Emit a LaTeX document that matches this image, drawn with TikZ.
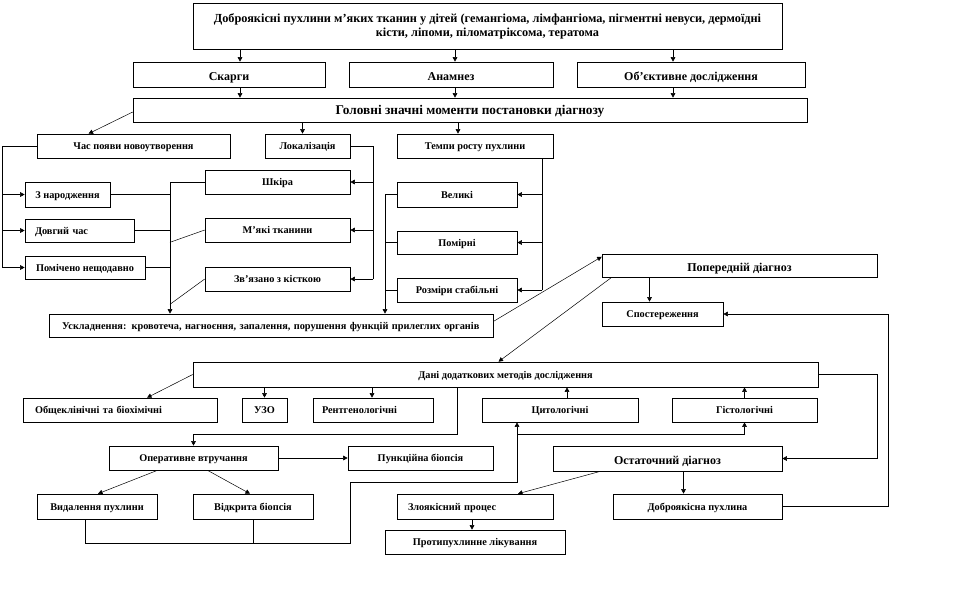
\documentclass[tikz,border=0pt]{standalone}
\usepackage{fontspec}
\setmainfont{Liberation Serif}
\usetikzlibrary{arrows.meta,shadows}
\begin{document}
\begin{tikzpicture}[x=1pt,y=-1pt,
  box/.style={draw=black, line width=0.6pt, fill=white, inner sep=0pt,
    font=\fontsize{10.3}{12}\selectfont\bfseries, text height=7.8pt, text depth=0pt,
    drop shadow={shadow xshift=0.9pt, shadow yshift=-1.2pt, fill=black!55, opacity=1}},
  ttl/.style={font=\fontsize{12.3}{14}\selectfont\bfseries, text height=, text depth=},
  big/.style={font=\fontsize{13.3}{15}\selectfont\bfseries, text height=8.8pt},
  mid/.style={font=\fontsize{12}{14}\selectfont\bfseries, text height=11.5pt},
  ln/.style={line width=0.5pt},
  arr/.style={ln, -{Triangle[width=4.5pt,length=4.5pt]}}]
\fill[white] (0,0) rectangle (961,603);
\useasboundingbox (0,0) rectangle (961,603);

% boxes
\node[box, ttl, minimum width=589pt, minimum height=46pt, align=center] (title) at (487.5,26)
  {Доброякісні пухлини м’яких тканин у дітей (гемангіома, лімфангіома, пігментні невуси, дермоїдні\\кісти, ліпоми, піломатріксома, тератома};
\node[box, mid, minimum width=192pt, minimum height=25pt] (skarhy) at (229,74.5) {Скарги};
\node[box, mid, minimum width=204pt, minimum height=25pt] (anamnez) at (451,74.5) {Анамнез};
\node[box, mid, minimum width=228pt, minimum height=25pt] (obj) at (691,74.5) {Об’єктивне дослідження};
\node[box, big, minimum width=674pt, minimum height=24pt] (holovni) at (470,110) {Головні значні моменти постановки діагнозу};

\node[box, minimum width=193pt, minimum height=24pt] (chas) at (133.5,146) {Час появи новоутворення};
\node[box, minimum width=85pt, minimum height=24pt] (lok) at (307.5,146) {Локалізація};
\node[box, minimum width=156pt, minimum height=24pt] (tempy) at (475,146) {Темпи росту пухлини};

\node[box, minimum width=85pt, minimum height=25pt] (znar) at (67.5,194.5) {З народження};
\node[box, minimum height=23pt, inner xsep=10pt, text width=89pt, align=left] (dovh) at (79.5,230.5) {Довгий час};
\node[box, minimum width=120pt, minimum height=23pt] (pomich) at (85,267.5) {Помічено нещодавно};

\node[box, minimum width=145pt, minimum height=24pt] (shkira) at (277.5,182) {Шкіра};
\node[box, minimum width=145pt, minimum height=24pt] (miaki) at (277.5,230) {М’які тканини};
\node[box, minimum width=145pt, minimum height=24pt] (zviaz) at (277.5,279) {Зв’язано з кісткою};

\node[box, minimum width=120pt, minimum height=25pt] (velyki) at (457,194.5) {Великі};
\node[box, minimum width=120pt, minimum height=23pt] (pomirni) at (457,242.5) {Помірні};
\node[box, minimum width=120pt, minimum height=24pt] (rozm) at (457,290) {Розміри стабільні};

\node[box, minimum height=23pt, inner xsep=13pt, text width=418pt, align=left] (uskl) at (271,325.5)
  {Ускладнення: кровотеча, нагноєння, запалення, порушення функцій прилеглих органів};

\node[box, mid, minimum width=275pt, minimum height=23pt] (poper) at (739.5,265.5) {Попередній діагноз};
\node[box, minimum width=121pt, minimum height=24pt] (sposter) at (662.5,314) {Спостереження};

\node[box, minimum width=625pt, minimum height=25pt] (dani) at (505.5,374.5) {Дані додаткових методів дослідження};
\node[box, minimum height=24pt, inner xsep=12pt, text width=170pt, align=left] (obsch) at (120,410) {Общеклінічні та біохімічні};
\node[box, minimum width=45pt, minimum height=24pt] (uzo) at (264.5,410) {УЗО};
\node[box, minimum height=24pt, inner xsep=9pt, text width=102pt, align=left] (rentg) at (373,410) {Рентгенологічні};
\node[box, minimum width=156pt, minimum height=24pt] (tsyt) at (560,410) {Цитологічні};
\node[box, minimum width=145pt, minimum height=24pt] (hist) at (744.5,410) {Гістологічні};

\node[box, minimum width=169pt, minimum height=24pt] (oper) at (193.5,458) {Оперативне втручання};
\node[box, minimum width=145pt, minimum height=24pt] (punk) at (420.5,458) {Пункційна біопсія};
\node[box, mid, minimum width=229pt, minimum height=25pt] (ostat) at (667.5,458.5) {Остаточний діагноз};

\node[box, minimum width=120pt, minimum height=25pt] (vydal) at (97,506.5) {Видалення пухлини};
\node[box, minimum width=120pt, minimum height=25pt] (vidkr) at (253,506.5) {Відкрита біопсія};
\node[box, minimum height=25pt, inner xsep=11pt, text width=134pt, align=left] (zloy) at (475,506.5) {Злоякісний процес};
\node[box, minimum width=169pt, minimum height=25pt] (dobr) at (697.5,506.5) {Доброякісна пухлина};
\node[box, minimum width=180pt, minimum height=24pt] (proty) at (475,542) {Протипухлинне лікування};

% helper coordinates
\coordinate (lv) at (2,146);
\coordinate (mv) at (170,183);
\coordinate (lr) at (373,146);
\coordinate (tr) at (542,158);
\coordinate (tl) at (385,195);
\coordinate (rr) at (888,506);
\coordinate (dr) at (877,375);
\coordinate (dl) at (457,434);
\coordinate (bb) at (350,543);
\coordinate (cc) at (517,482);
\coordinate (hh) at (744.5,434);

% connectors
\draw[arr] ([xshift=11]skarhy.north |- title.south) -- ([xshift=11]skarhy.north);
\draw[arr] ([xshift=4]anamnez.north |- title.south) -- ([xshift=4]anamnez.north);
\draw[arr] ([xshift=-18]obj.north |- title.south) -- ([xshift=-18]obj.north);
\draw[arr] ([xshift=11]skarhy.south) -- ([xshift=11]skarhy.south |- holovni.north);
\draw[arr] ([xshift=4]anamnez.south) -- ([xshift=4]anamnez.south |- holovni.north);
\draw[arr] ([xshift=-18]obj.south) -- ([xshift=-18]obj.south |- holovni.north);

\draw[arr] ([yshift=-2]holovni.west) -- ([xshift=-45]chas.north);
\draw[arr] ([xshift=-5]lok.north |- holovni.south) -- ([xshift=-5]lok.north);
\draw[arr] ([xshift=-17]tempy.north |- holovni.south) -- ([xshift=-17]tempy.north);

\draw[ln] (chas.west) -- (lv) -- (lv |- pomich.west);
\draw[arr] (lv |- znar.west) -- (znar.west);
\draw[arr] (lv |- dovh.west) -- (dovh.west);
\draw[arr] (lv |- pomich.west) -- (pomich.west);

\draw[arr] (shkira.west) -| (uskl.north -| mv);
\draw[ln] (znar.east) -- (znar.east -| mv);
\draw[ln] (dovh.east) -- (dovh.east -| mv);
\draw[ln] (pomich.east) -- (pomich.east -| mv);
\draw[ln] (miaki.west) -- (miaki.south west -| mv);
\draw[ln] (zviaz.west) -- ([yshift=-13]zviaz.south west -| mv);

\draw[ln] (lok.east) -- (lr) -- (lr |- zviaz.east);
\draw[arr] (lr |- shkira.east) -- (shkira.east);
\draw[arr] (lr |- miaki.east) -- (miaki.east);
\draw[arr] (lr |- zviaz.east) -- (zviaz.east);

\draw[ln] (tr) -- (tr |- rozm.east);
\draw[arr] (tr |- velyki.east) -- (velyki.east);
\draw[arr] (tr |- pomirni.east) -- (pomirni.east);
\draw[arr] (tr |- rozm.east) -- (rozm.east);

\draw[arr] (velyki.west) -| (uskl.north -| tl);
\draw[ln] (pomirni.west) -- (pomirni.west -| tl);
\draw[ln] (rozm.west) -- (rozm.west -| tl);

\draw[arr] ([yshift=4]uskl.east) -- ([yshift=-3]poper.north west);
\draw[arr] ([xshift=10]poper.south west) -- ([xshift=-7]dani.north);
\draw[arr] ([xshift=-13]sposter.north |- poper.south) -- ([xshift=-13]sposter.north);
\draw[arr] (dobr.east) -| (rr |- sposter.east) -- (sposter.east);
\draw[arr] (dani.east) -| (dr |- ostat.east) -- (ostat.east);

\draw[arr] (dani.west) -- ([xshift=27]obsch.north);
\draw[arr] (uzo.north |- dani.south) -- (uzo.north);
\draw[arr] ([xshift=-1]rentg.north |- dani.south) -- ([xshift=-1]rentg.north);
\draw[arr] ([xshift=7]tsyt.north) -- ([xshift=7]tsyt.north |- dani.south);
\draw[arr] (hist.north) -- (hist.north |- dani.south);

\draw[arr] (dl |- dani.south) -- (dl) -| (oper.north);
\draw[arr] (oper.east) -- (punk.west);
\draw[arr] ([xshift=-36]oper.south) -- ([xshift=1]vydal.north);
\draw[arr] ([xshift=14]oper.south) -- ([xshift=-3]vidkr.north);

\draw[arr] ([xshift=-12]vydal.south) |- (bb) |- (cc) -- (cc |- tsyt.south);
\draw[ln] (vidkr.south) -- (vidkr.south |- bb);
\draw[arr] (cc |- hh) -- (hh) -- (hist.south);

\draw[arr] ([xshift=-67]ostat.south) -- ([xshift=43]zloy.north);
\draw[arr] ([xshift=16]ostat.south) -- ([xshift=16]ostat.south |- dobr.north);
\draw[arr] ([xshift=-3]zloy.south) -- ([xshift=-3]zloy.south |- proty.north);
\end{tikzpicture}
\end{document}
